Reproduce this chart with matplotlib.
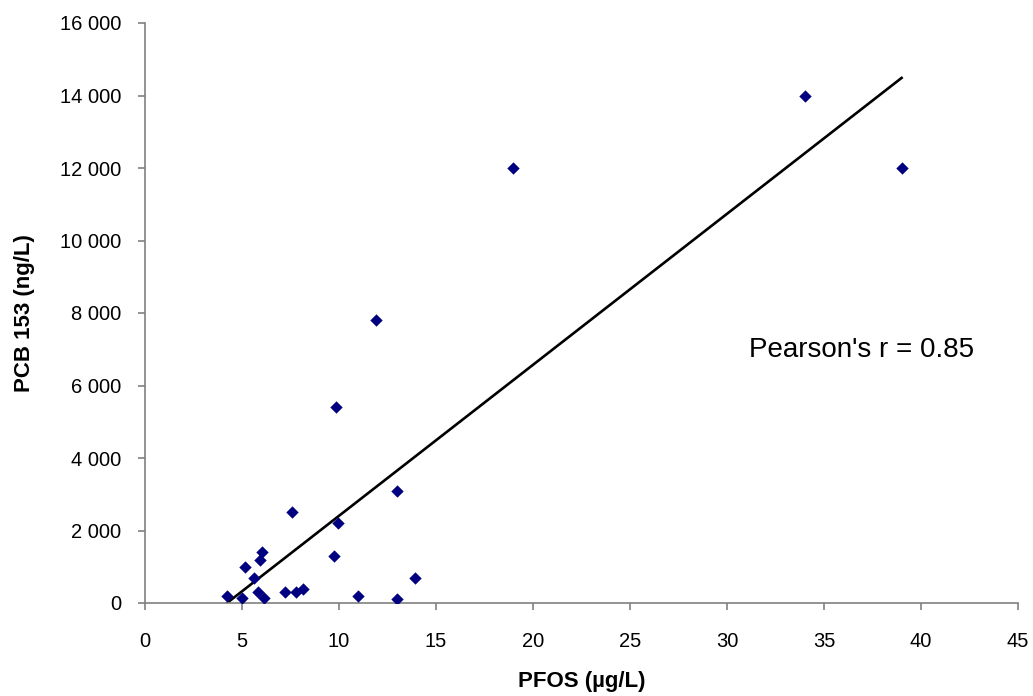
import numpy as np
import matplotlib
matplotlib.use("Agg")
import matplotlib.pyplot as plt
from matplotlib.ticker import FuncFormatter

plt.rcParams['font.family'] = ['Liberation Sans', 'DejaVu Sans']

pfos = [4.24, 5.0, 5.14, 5.6, 6.04, 5.95, 5.82, 6.12, 7.57, 7.24, 7.79, 8.15,
        9.96, 9.73, 10.97, 13.0, 13.94, 13.0, 9.87, 11.93, 18.95, 34.0, 39.0]
pcb153 = [200, 150, 1000, 700, 1400, 1200, 300, 150, 2500, 300, 300, 400,
          2200, 1300, 200, 3100, 700, 100, 5400, 7800, 12000, 14000, 12000]

x_ticks = [0, 5, 10, 15, 20, 25, 30, 35, 40, 45]
y_ticks = [0, 2000, 4000, 6000, 8000, 10000, 12000, 14000, 16000]
annotation = "Pearson's r = 0.85"

fig = plt.figure(figsize=(10.33, 6.96), dpi=100)
ax = fig.add_axes([145/1033, 1 - 603/696, (1018-145)/1033, (603-23)/696])

ax.scatter(pfos, pcb153, marker='D', s=6.3**2, color='#000080', zorder=3, linewidths=0)

slope, intercept = np.polyfit(pfos, pcb153, 1)
xl = np.array([min(pfos), max(pfos)])
ax.plot(xl, slope*xl + intercept, color='black', lw=1.9, zorder=2)

ax.set_xlim(0, 45)
ax.set_ylim(0, 16000)
ax.set_xticks(x_ticks)
ax.set_yticks(y_ticks)
ax.yaxis.set_major_formatter(FuncFormatter(lambda v, p: f"{int(v):,}".replace(",", " ")))

for s in ['top', 'right']:
    ax.spines[s].set_visible(False)
for s in ['left', 'bottom']:
    ax.spines[s].set_color('#808080')
    ax.spines[s].set_linewidth(1.2)
ax.tick_params(axis='both', direction='out', length=5, width=1.2, color='#808080',
               labelsize=14.5, labelcolor='black')
ax.tick_params(axis='x', pad=16)
ax.tick_params(axis='y', pad=12)

ax.set_xlabel("PFOS (µg/L)", fontsize=16, fontweight='bold', labelpad=14)
ax.set_ylabel("PCB 153 (ng/L)", fontsize=16, fontweight='bold', labelpad=18)

ax.text(0.821, 0.436, annotation, fontsize=20, ha='center', va='center',
        transform=ax.transAxes)

fig.savefig("out.png", dpi=100)
